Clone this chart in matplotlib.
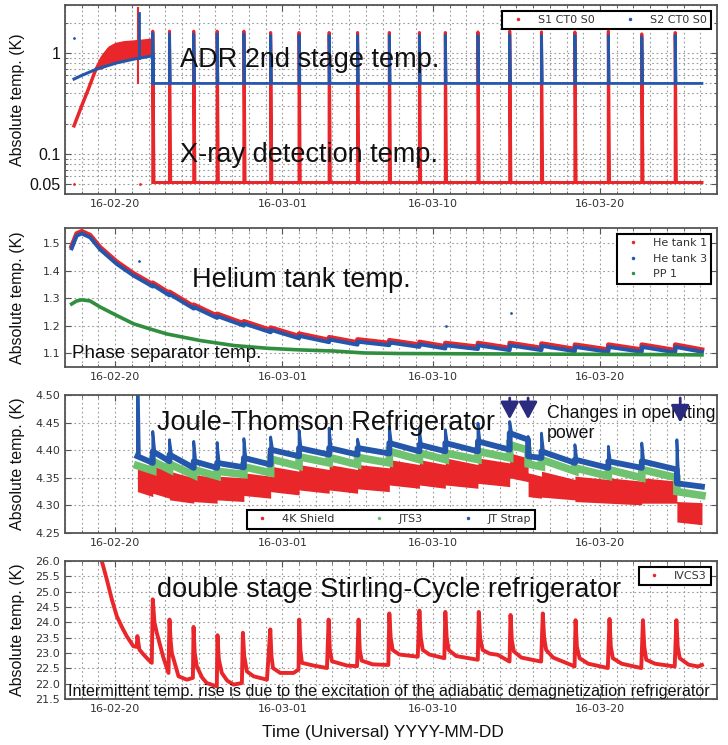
import numpy as np
import matplotlib
matplotlib.use('Agg')
import matplotlib.pyplot as plt
import matplotlib.dates as mdates
import matplotlib.ticker as mticker
from matplotlib.lines import Line2D
from matplotlib import font_manager
from datetime import datetime

# time axis: days counted from 2016-02-17 00:00
T0 = mdates.date2num(datetime(2016, 2, 17))
x_days = [0, 39]
major_days = [3, 13, 22, 32]   # 16-02-20, 16-03-01, 16-03-10, 16-03-20

# ADR recycle times (days), seen in every panel
adr_cycles = [5.25, 6.25, 7.7, 9.1, 10.7, 12.3, 14.0, 15.8, 17.5, 19.4,
              21.2, 22.75, 24.7, 26.6, 28.5, 30.5, 32.5, 34.5, 36.5]
t_end = 38.1

# ---- panel 1: ADR / X-ray detector (log scale)
xray_ramp_t = [0.54, 1.0, 1.4, 1.8, 2.2, 2.6]
xray_ramp_v = [0.19, 0.30, 0.44, 0.66, 0.89, 1.08]
xray_band_t = [1.9, 2.2, 2.6, 3.0, 3.5, 4.0, 4.6, 5.25]
xray_band_lo = [0.68, 0.70, 0.76, 0.80, 0.84, 0.88, 0.92, 0.95]
xray_band_hi = [0.72, 0.98, 1.18, 1.28, 1.33, 1.35, 1.38, 1.42]
xray_base = 0.052
xray_peaks = [1.65, 1.65, 1.65, 1.65, 1.65, 1.6, 1.6, 1.6, 1.6, 1.6,
              1.6, 1.6, 1.62, 1.65, 1.62, 1.62, 1.65, 1.55, 1.6]
xray_glitch_t = 4.35
xray_glitch_v = [0.5, 2.8]
xray_stray_t = [0.54, 4.5]
xray_stray_v = [0.05, 0.05]

adr_warm_t = [0.54, 1.0, 1.9, 3.1, 4.1, 5.25]
adr_warm_v = [0.553, 0.60, 0.695, 0.80, 0.87, 0.94]
adr_base = 0.5
adr_peaks = [1.58, 1.55, 1.55, 1.55, 1.55, 1.5, 1.5, 1.5, 1.5, 1.5,
             1.5, 1.5, 1.5, 1.52, 1.5, 1.5, 1.5, 1.45, 1.5]
adr_glitch_v = [0.9, 2.5]
adr_stray_t = [0.54]
adr_stray_v = [1.4]

# ---- panel 2: helium tank
he1_t = [0.4, 0.7, 1.0, 1.5, 2.1, 3.1, 4.1, 5.25, 5.25, 6.25, 6.25, 7.7, 7.7,
         9.1, 9.1, 10.7, 10.7, 12.3, 12.3, 14.0, 14.0, 15.8, 15.8, 17.5, 17.5,
         19.4, 19.4, 21.2, 21.2, 22.75, 22.75, 24.7, 24.7, 26.6, 26.6,
         28.5, 28.5, 30.5, 30.5, 32.5, 32.5, 34.5, 34.5, 36.5, 36.5, 38.1]
he1_v = [1.489, 1.535, 1.543, 1.529, 1.485, 1.432, 1.390, 1.350, 1.356,
         1.318, 1.323, 1.270, 1.276, 1.236, 1.243, 1.208, 1.216, 1.184, 1.193,
         1.162, 1.171, 1.148, 1.158, 1.139, 1.150, 1.137, 1.147, 1.131, 1.141,
         1.125, 1.137, 1.123, 1.137, 1.119, 1.137, 1.119, 1.135, 1.115, 1.131,
         1.113, 1.131, 1.113, 1.131, 1.111, 1.131, 1.113]
he3_t = he1_t
he3_v = [1.481, 1.527, 1.535, 1.521, 1.477, 1.424, 1.382, 1.342, 1.348,
         1.310, 1.315, 1.262, 1.268, 1.228, 1.235, 1.200, 1.208, 1.176, 1.185,
         1.154, 1.163, 1.140, 1.150, 1.131, 1.142, 1.129, 1.139, 1.123, 1.133,
         1.117, 1.129, 1.115, 1.129, 1.111, 1.129, 1.111, 1.127, 1.107, 1.123,
         1.105, 1.123, 1.105, 1.123, 1.103, 1.123, 1.105]
he3_stray_t = [4.4, 22.8, 26.7]
he3_stray_v = [1.434, 1.199, 1.248]
pp1_t = [0.4, 0.7, 1.0, 1.5, 2.1, 3.1, 4.1, 5.1, 6.1, 7.1, 8.1, 9.1, 10.1,
         12.1, 14.1, 16.1, 17.9, 20, 24, 28, 32, 36, 38.1]
pp1_v = [1.279, 1.290, 1.294, 1.290, 1.268, 1.237, 1.207, 1.188, 1.170,
         1.158, 1.146, 1.137, 1.128, 1.118, 1.112, 1.108, 1.101, 1.099,
         1.098, 1.097, 1.096, 1.095, 1.094]

# ---- panel 3: Joule-Thomson
jt_t = [4.33, 5.25, 6.25, 7.7, 9.1, 10.7, 12.3, 14.0, 15.8, 17.5, 19.4, 21.2,
        22.75, 24.7, 26.6, 27.7, 28.5, 30.5, 32.5, 34.5, 36.6]
strap_peak = [4.60, 4.434, 4.419, 4.416, 4.414, 4.421, 4.424, 4.436, 4.440,
              4.420, 4.443, 4.437, 4.437, 4.449, 4.452, 4.425, 4.431, 4.410,
              4.407, 4.413, 4.419]
strap_start = [4.389, 4.398, 4.392, 4.380, 4.377, 4.386, 4.401, 4.404, 4.404,
               4.404, 4.413, 4.410, 4.413, 4.416, 4.431, 4.389, 4.398, 4.383,
               4.380, 4.380, 4.340]
strap_end = [4.377, 4.380, 4.368, 4.368, 4.369, 4.374, 4.389, 4.392, 4.392,
             4.394, 4.398, 4.398, 4.398, 4.401, 4.419, 4.386, 4.377, 4.368,
             4.368, 4.365, 4.334]
jts3_start = [4.372, 4.380, 4.375, 4.365, 4.362, 4.370, 4.384, 4.388, 4.387,
              4.387, 4.398, 4.395, 4.395, 4.398, 4.410, 4.375, 4.383, 4.368,
              4.365, 4.365, 4.325]
jts3_end = [4.363, 4.365, 4.355, 4.353, 4.356, 4.359, 4.371, 4.377, 4.374,
            4.377, 4.383, 4.383, 4.383, 4.386, 4.400, 4.370, 4.362, 4.353,
            4.350, 4.350, 4.318]
shield_top_start = [4.374, 4.371, 4.362, 4.356, 4.353, 4.359, 4.371, 4.374,
                    4.374, 4.374, 4.383, 4.383, 4.386, 4.386, 4.395, 4.359,
                    4.362, 4.353, 4.350, 4.350, 4.307]
shield_top_end = [4.365, 4.362, 4.350, 4.350, 4.350, 4.353, 4.362, 4.365,
                  4.365, 4.368, 4.374, 4.374, 4.374, 4.377, 4.386, 4.353,
                  4.347, 4.347, 4.344, 4.344, 4.305]
shield_bot_start = [4.325, 4.322, 4.310, 4.307, 4.310, 4.318, 4.325, 4.328,
                    4.328, 4.330, 4.337, 4.337, 4.337, 4.340, 4.350, 4.316,
                    4.315, 4.307, 4.304, 4.304, 4.270]
shield_bot_end = [4.316, 4.313, 4.304, 4.304, 4.307, 4.313, 4.319, 4.322,
                  4.322, 4.325, 4.331, 4.331, 4.331, 4.334, 4.343, 4.313,
                  4.310, 4.304, 4.301, 4.304, 4.265]
arrow_days = [26.6, 27.7, 36.8]
arrow_tips = [4.456, 4.456, 4.450]

# ---- panel 4: Stirling cycle (IVCS3)
ivcs_t = [2.05, 2.5, 2.8, 3.1, 3.4, 3.69, 4.09, 4.29, 4.33, 4.45, 4.7, 4.99, 5.19,
          5.25, 5.35, 5.49, 5.89, 6.19,
          6.25, 6.32, 6.39, 6.79, 7.29, 7.65,
          7.69, 7.76, 7.88, 8.2, 8.48, 9.08,
          9.12, 9.2, 9.38, 9.7, 10.08, 10.58,
          10.64, 10.72, 10.88, 11.28, 12.08,
          12.28, 12.35, 12.44, 12.87, 13.67, 13.97,
          14.01, 14.08, 14.17, 14.87, 15.67,
          15.77, 15.84, 15.97, 16.87, 17.47,
          17.56, 17.63, 17.75, 18.4, 19.34,
          19.40, 19.48, 19.60, 20.0, 21.10,
          21.20, 21.28, 21.40, 21.8, 22.69,
          22.75, 22.83, 22.95, 23.4, 24.69,
          24.75, 24.83, 24.98, 25.4, 25.89, 26.59,
          26.65, 26.73, 26.85, 27.3, 28.48,
          28.58, 28.66, 28.78, 29.2, 30.28, 30.48,
          30.54, 30.62, 30.78, 31.3, 32.47,
          32.57, 32.65, 32.77, 33.3, 34.47,
          34.57, 34.65, 34.77, 35.3, 36.47,
          36.57, 36.65, 36.77, 37.3, 37.86, 38.1]
ivcs_v = [26.3, 25.4, 24.75, 24.2, 23.85, 23.55, 23.22, 23.2, 23.55, 23.11, 22.95, 22.78, 22.68,
          24.75, 24.0, 23.66, 22.84, 22.35,
          24.09, 23.4, 23.0, 22.24, 22.13, 22.19,
          23.85, 23.0, 22.57, 22.2, 22.02, 21.91,
          23.58, 22.8, 22.35, 22.1, 21.97, 22.02,
          23.66, 22.9, 22.40, 22.24, 22.13,
          23.77, 22.9, 22.51, 22.35, 22.35, 22.46,
          24.09, 23.1, 22.68, 22.59, 22.51,
          24.09, 23.1, 22.73, 22.59, 22.57,
          24.09, 23.1, 22.75, 22.63, 22.61,
          24.29, 23.5, 23.10, 22.95, 22.88,
          24.38, 23.5, 23.10, 22.95, 22.83,
          24.34, 23.5, 23.10, 22.9, 22.78,
          24.34, 23.5, 23.10, 22.98, 22.94, 22.72,
          24.24, 23.4, 23.05, 22.85, 22.72,
          24.29, 23.5, 23.10, 22.85, 22.61, 22.56,
          24.07, 23.2, 22.83, 22.65, 22.51,
          24.11, 23.2, 22.83, 22.65, 22.51,
          24.07, 23.2, 22.78, 22.65, 22.56,
          24.07, 23.2, 22.83, 22.62, 22.56, 22.61]

RED = '#e9262a'
BLUE = '#2457ab'
GREEN_DK = '#2f8f3f'
GREEN_LT = '#6fc26f'
ANN = 'Liberation Sans'


def d(days):
    return T0 + np.asarray(days, dtype=float)


def spiky(times, peaks, base, end, w=0.07):
    xs, ys = [], []
    for t, p in zip(times, peaks):
        xs += [t, t, t + w]
        ys += [base, p, base]
    xs.append(end)
    ys.append(base)
    return d(xs), ys


def segments(times, start, stop, end):
    nxt = list(times[1:]) + [end]
    xs, ys = [], []
    for t0, t1, a, b in zip(times, nxt, start, stop):
        xs += [t0, t1]
        ys += [a, b]
    return d(xs), np.array(ys)


def style(ax, ygrid_minor=False):
    ax.set_xlim(d(x_days))
    ax.xaxis.set_major_locator(mticker.FixedLocator(d(major_days)))
    ax.xaxis.set_minor_locator(mticker.MultipleLocator(1))
    ax.xaxis.set_major_formatter(mdates.DateFormatter('%y-%m-%d'))
    gl = dict(color='#9a9a9a', linestyle=(0, (1.5, 2.5)), linewidth=0.8)
    ax.grid(True, which='both', axis='x', **gl)
    ax.grid(True, which='both' if ygrid_minor else 'major', axis='y', **gl)
    ax.set_axisbelow(True)
    ax.tick_params(which='both', direction='in', top=True, right=True,
                   colors='#555555', labelcolor='#333333', labelsize=8)
    ax.tick_params(which='major', length=4)
    ax.tick_params(which='minor', length=2)
    for s in ax.spines.values():
        s.set_color('#555555')
        s.set_linewidth(1.3)


def legend(ax, labels, colors, **kw):
    handles = [Line2D([], [], ls='none', marker='.', ms=3, color=c) for c in colors]
    leg = ax.legend(handles, labels, fontsize=8, fancybox=False, framealpha=1,
                    edgecolor='black', handlelength=2.0, handletextpad=0.8, **kw)
    leg.get_frame().set_linewidth(1.5)
    for t in leg.get_texts():
        t.set_color('#333333')
    return leg


fig = plt.figure(figsize=(7.28, 7.45), dpi=100)
W, H = 728.0, 745.0


def axes_px(top, bottom):
    return fig.add_axes([65 / W, 1 - bottom / H, 652 / W, (bottom - top) / H])


ax1 = axes_px(5, 194)
ax2 = axes_px(228, 367)
ax3 = axes_px(395, 533)
ax4 = axes_px(561, 699)

# ---- panel 1
ax1.set_yscale('log')
ax1.fill_between(d(xray_band_t), xray_band_lo, xray_band_hi, color=RED, lw=0)
ax1.plot(d(xray_ramp_t), xray_ramp_v, color=RED, lw=2.5)
ax1.plot(d([xray_glitch_t] * 2), xray_glitch_v, color=RED, lw=1.5)
xs, ys = spiky(adr_cycles, xray_peaks, xray_base, t_end)
ax1.plot(xs, ys, color=RED, lw=2.2)
ax1.plot(d(xray_stray_t), xray_stray_v, ls='none', marker='.', ms=2, color=RED)
ax1.plot(d(adr_warm_t), adr_warm_v, color=BLUE, lw=2.2)
ax1.plot(d([xray_glitch_t + 0.05] * 2), adr_glitch_v, color=BLUE, lw=2)
xs, ys = spiky(adr_cycles, adr_peaks, adr_base, t_end, w=0.05)
ax1.plot(d([adr_warm_t[-1]]).tolist() + list(xs), [adr_warm_v[-1]] + ys,
         color=BLUE, lw=2)
ax1.plot(d(adr_stray_t), adr_stray_v, ls='none', marker='.', ms=2, color=BLUE)
ax1.set_ylim(0.04, 3.0)
style(ax1, ygrid_minor=True)
ax1.yaxis.set_major_locator(mticker.FixedLocator([0.05, 0.1, 1]))
ax1.yaxis.set_major_formatter(mticker.FixedFormatter(['0.05', '0.1', '1']))
ax1.yaxis.set_minor_locator(mticker.LogLocator(base=10, subs=np.arange(2, 10)))
ax1.yaxis.set_minor_formatter(mticker.NullFormatter())
for lab in ax1.get_yticklabels():
    lab.set_fontfamily(ANN)
    lab.set_fontsize(11.5)
    lab.set_color('#111111')
legend(ax1, ['S1 CT0 S0', 'S2 CT0 S0'], [RED, BLUE], loc='upper right',
       ncol=2, columnspacing=2.2, borderaxespad=0.5)
ax1.text(0.176, 0.674, 'ADR 2nd stage temp.', transform=ax1.transAxes,
         family=ANN, fontsize=19.5, color='#111111', va='baseline')
ax1.text(0.176, 0.169, 'X-ray detection temp.', transform=ax1.transAxes,
         family=ANN, fontsize=19.5, color='#111111', va='baseline')

# ---- panel 2
ax2.plot(d(he1_t), he1_v, color=RED, lw=3.4)
ax2.plot(d(he3_t), he3_v, color=BLUE, lw=2.8)
ax2.plot(d(he3_stray_t), he3_stray_v, ls='none', marker='.', ms=2, color=BLUE)
ax2.plot(d(pp1_t), pp1_v, color=GREEN_DK, lw=2.6)
ax2.set_ylim(1.05, 1.555)
style(ax2)
ax2.yaxis.set_major_locator(mticker.FixedLocator([1.1, 1.2, 1.3, 1.4, 1.5]))
ax2.yaxis.set_major_formatter(mticker.FormatStrFormatter('%.1f'))
legend(ax2, ['He tank 1', 'He tank 3', 'PP 1'], [RED, BLUE, GREEN_DK],
       loc='upper right', borderaxespad=0.5)
ax2.text(0.195, 0.578, 'Helium tank temp.', transform=ax2.transAxes,
         family=ANN, fontsize=19.5, color='#111111', va='baseline')
ax2.text(0.011, 0.065, 'Phase separator temp.', transform=ax2.transAxes,
         family=ANN, fontsize=13.5, color='#111111', va='baseline')

# ---- panel 3
xs, top = segments(jt_t, shield_top_start, shield_top_end, t_end)
_, bot = segments(jt_t, shield_bot_start, shield_bot_end, t_end)
ax3.fill_between(xs, bot, top, color=RED, lw=0)
xs, g = segments(jt_t, jts3_start, jts3_end, t_end)
ax3.plot(xs, g, color=GREEN_LT, lw=5.5, solid_joinstyle='miter')
xs, b = segments(jt_t, strap_start, strap_end, t_end)
ax3.plot(xs, b, color=BLUE, lw=4.2)
sx, sy = [], []
for t, p, s in zip(jt_t, strap_peak, strap_start):
    sx += [t, t, t + 0.12, np.nan]
    sy += [s, p, s, np.nan]
ax3.plot(d(sx), sy, color=BLUE, lw=2)
ax3.set_ylim(4.25, 4.50)
style(ax3)
ax3.yaxis.set_major_locator(mticker.MultipleLocator(0.05))
ax3.yaxis.set_major_formatter(mticker.FormatStrFormatter('%.2f'))
legend(ax3, ['4K Shield', 'JTS3', 'JT Strap'], [RED, GREEN_LT, BLUE],
       loc='lower center', ncol=3, columnspacing=3.0, borderaxespad=0.4)
ax3.text(0.141, 0.746, 'Joule-Thomson Refrigerator', transform=ax3.transAxes,
         family=ANN, fontsize=19.5, color='#111111', va='baseline')
ax3.text(0.739, 0.831, 'Changes in operating', transform=ax3.transAxes,
         family=ANN, fontsize=12.8, color='#111111', va='baseline')
ax3.text(0.739, 0.686, 'power', transform=ax3.transAxes,
         family=ANN, fontsize=12.8, color='#111111', va='baseline')
for x, tip in zip(arrow_days, arrow_tips):
    ax3.annotate('', xy=(d(x), tip), xytext=(d(x), 4.4946),
                 arrowprops=dict(arrowstyle='-|>,head_length=0.65,head_width=0.35',
                                 color='#2b2b80', lw=2, shrinkA=0, shrinkB=0,
                                 mutation_scale=16))

# ---- panel 4
ax4.plot(d(ivcs_t), ivcs_v, color=RED, lw=2.8)
ax4.set_ylim(21.5, 26.0)
style(ax4)
ax4.yaxis.set_major_locator(mticker.MultipleLocator(0.5))
ax4.yaxis.set_major_formatter(mticker.FormatStrFormatter('%.1f'))
legend(ax4, ['IVCS3'], [RED], loc='upper right', borderaxespad=0.5)
ax4.text(0.141, 0.741, 'double stage Stirling-Cycle refrigerator',
         transform=ax4.transAxes, family=ANN, fontsize=19.5, color='#111111',
         va='baseline')
names = {f.name for f in font_manager.fontManager.ttflist}
narrow = 'Liberation Sans Narrow' if 'Liberation Sans Narrow' in names else ANN
note = ax4.text(0.005, 0.022,
                'Intermittent temp. rise is due to the excitation of the '
                'adiabatic demagnetization refrigerator',
                transform=ax4.transAxes, family=narrow, fontsize=12.5,
                color='#111111', va='baseline')

for ax in (ax1, ax2, ax3, ax4):
    pos = ax.get_position()
    fig.text(18 / W, (pos.y0 + pos.y1) / 2, 'Absolute temp. (K)', rotation=90,
             family=ANN, fontsize=11.5, color='#111111', ha='center', va='center')

fig.text(383 / W, 1 - 733 / H, 'Time (Universal) YYYY-MM-DD', family=ANN,
         fontsize=12.5, color='#111111', ha='center', va='center')

fig.canvas.draw()
bb = note.get_window_extent(fig.canvas.get_renderer())
note.set_fontsize(note.get_fontsize() * 643.0 / bb.width)

fig.savefig('out.png', dpi=100)
